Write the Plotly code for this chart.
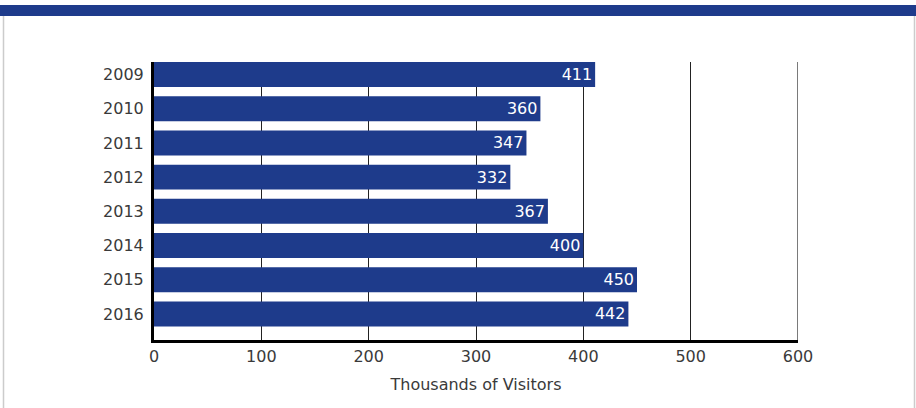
import plotly.graph_objects as go

years = ["2009", "2010", "2011", "2012", "2013", "2014", "2015", "2016"]
visitors = [411, 360, 347, 332, 367, 400, 450, 442]
x_ticks = [0, 100, 200, 300, 400, 500, 600]

BLUE = "#1e3b8b"
W, H = 916, 408
L, R, T, B = 154, 118, 62, 68
pw, ph = W - L - R, H - T - B

def px(x):
    return (x - L) / pw

def py(y):
    return (H - B - y) / ph

fig = go.Figure(go.Bar(
    y=years, x=visitors, orientation="h",
    marker=dict(color=BLUE, line=dict(width=0)),
    text=[str(v) for v in visitors], textposition="inside",
    insidetextanchor="end",
    textfont=dict(color="white", size=16, family="DejaVu Sans"),
    width=0.73,
))

shapes = [
    dict(type="rect", xref="paper", yref="paper", x0=px(0), x1=px(W), y0=py(16), y1=py(5),
         fillcolor=BLUE, line=dict(width=0), layer="above"),
    dict(type="line", xref="paper", yref="paper", x0=px(3.5), x1=px(3.5), y0=py(16), y1=py(W),
         line=dict(color="#cccccc", width=1.5)),
    dict(type="line", xref="paper", yref="paper", x0=px(914.5), x1=px(914.5), y0=py(16), y1=py(W),
         line=dict(color="#cccccc", width=1.5)),
    dict(type="line", xref="x", yref="paper", x0=x_ticks[-1], x1=x_ticks[-1], y0=0, y1=1,
         line=dict(color="#222222", width=1.2), layer="below"),
]

fig.update_layout(
    width=W, height=H,
    margin=dict(l=L, r=R, t=T, b=B),
    paper_bgcolor="white", plot_bgcolor="white",
    showlegend=False,
    font=dict(family="DejaVu Sans", size=16, color="#3a3a3a"),
    shapes=shapes,
    xaxis=dict(
        range=[0, 600], tickvals=x_ticks, ticktext=[str(t) for t in x_ticks],
        showgrid=True, gridcolor="#222222", gridwidth=1,
        zeroline=False, showline=True, linecolor="black", linewidth=3,
        ticks="", ticklen=0,
        title=dict(text="Thousands of Visitors", font=dict(size=16, color="#3a3a3a"), standoff=14),
        tickfont=dict(size=16, color="#3a3a3a"),
        fixedrange=True,
    ),
    yaxis=dict(
        categoryorder="array", categoryarray=years,
        range=[7.76, -0.365],
        showgrid=False, zeroline=False, showline=True, linecolor="black", linewidth=3,
        ticks="", ticklabelstandoff=4,
        tickfont=dict(size=16, color="#3a3a3a"),
        fixedrange=True,
    ),
)

fig.write_html("out.html")
